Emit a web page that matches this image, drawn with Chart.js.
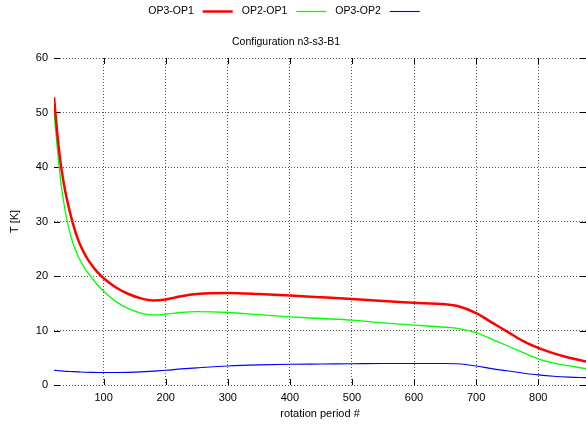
<!DOCTYPE html>
<html>
<head>
<meta charset="utf-8">
<script src="https://cdn.jsdelivr.net/npm/chart.js@4.4.0/dist/chart.umd.min.js"></script>
<style>
  html, body { margin: 0; padding: 0; background: #fff; }
  #wrap { width: 586px; height: 425px; }
</style>
</head>
<body>
<div id="wrap"><canvas id="chart"></canvas></div>
<script>
// rotation period (x) and the three temperature differences (T [K])
const periods = [20, 25, 30, 35, 40, 50, 60, 70, 80, 90, 100, 120, 140, 160, 180, 200, 225, 250, 300, 350,
                 400, 450, 500, 550, 600, 650, 670, 700, 725, 750, 775, 800, 825, 850, 877];
const op3op1 = [52.8, 46.5, 41.3, 37.5, 34.5, 29.8, 26.3, 23.9, 22.1, 20.7, 19.6, 17.9, 16.7, 15.9, 15.5, 15.7, 16.3, 16.7, 16.9, 16.7,
                16.4, 16.1, 15.8, 15.4, 15.1, 14.8, 14.5, 13.2, 11.5, 9.8, 8.1, 6.8, 5.8, 5.0, 4.3];
const op2op1 = [50.1, 43.8, 38.2, 34.0, 30.8, 26.2, 23.4, 21.3, 19.8, 18.4, 17.2, 15.3, 14.0, 13.2, 12.85, 13.0, 13.3, 13.45, 13.3, 12.9,
                12.5, 12.2, 11.9, 11.4, 11.0, 10.6, 10.4, 9.6, 8.4, 7.2, 6.0, 4.8, 4.0, 3.5, 3.0];
const op3op2 = [2.7, 2.65, 2.6, 2.55, 2.5, 2.45, 2.4, 2.35, 2.32, 2.3, 2.3, 2.3, 2.32, 2.4, 2.55, 2.7, 2.95, 3.15, 3.5, 3.7,
                3.8, 3.85, 3.9, 3.95, 3.95, 3.95, 3.9, 3.5, 3.0, 2.6, 2.2, 1.85, 1.6, 1.45, 1.35];

const seriesLabels = ['OP3-OP1', 'OP2-OP1', 'OP3-OP2'];
const xTicks = [100, 200, 300, 400, 500, 600, 700, 800];
const yTicks = [0, 10, 20, 30, 40, 50, 60];
const chartTitle = 'Configuration n3-s3-B1';

const FONT = '"Liberation Sans", Arial, sans-serif';

function toPoints(values) {
    return periods.map((p, i) => ({ x: p, y: values[i] }));
}

// gnuplot style: short solid ticks pointing into the plot, mirrored on all sides
const innerTicks = {
    id: 'innerTicks',
    beforeDatasetsDraw(chart) {
        const { ctx, chartArea: a, scales } = chart;
        ctx.save();
        ctx.strokeStyle = '#000';
        ctx.lineWidth = 1;
        ctx.beginPath();
        xTicks.forEach(v => {
            const px = Math.round(scales.x.getPixelForValue(v)) + 0.5;
            ctx.moveTo(px, a.bottom); ctx.lineTo(px, a.bottom - 6);
            ctx.moveTo(px, a.top); ctx.lineTo(px, a.top + 6);
        });
        yTicks.forEach(v => {
            const py = Math.round(scales.y.getPixelForValue(v)) + 0.5;
            ctx.moveTo(a.left, py); ctx.lineTo(a.left + 6, py);
            ctx.moveTo(a.right, py); ctx.lineTo(a.right - 6, py);
        });
        ctx.stroke();
        ctx.restore();
    }
};

// legend ("label  ——") and title, placed like the gnuplot original
const header = {
    id: 'header',
    afterDraw(chart) {
        const ctx = chart.ctx;
        ctx.save();
        ctx.font = '10.5px ' + FONT;
        ctx.fillStyle = '#000';
        ctx.textBaseline = 'middle';

        const sets = chart.data.datasets;
        const gap = 9, lineLen = 30;
        let total = 0;
        sets.forEach((ds, i) => {
            total += ctx.measureText(ds.label).width + gap + lineLen;
            if (i < sets.length - 1) total += gap;
        });
        let x = 284 - total / 2;
        const y = 11;
        sets.forEach(ds => {
            ctx.textAlign = 'left';
            ctx.fillText(ds.label, x, y);
            x += ctx.measureText(ds.label).width + gap;
            ctx.strokeStyle = ds.borderColor;
            ctx.lineWidth = ds.borderWidth;
            ctx.beginPath();
            ctx.moveTo(x, y + 0.5);
            ctx.lineTo(x + lineLen, y + 0.5);
            ctx.stroke();
            x += lineLen + gap;
        });

        ctx.textAlign = 'center';
        ctx.fillText(chartTitle, 286, 42);
        ctx.restore();
    }
};

const ctx = document.getElementById('chart');
new Chart(ctx, {
    type: 'line',
    data: {
        datasets: [
            { label: seriesLabels[0], data: toPoints(op3op1), borderColor: '#ff0000', borderWidth: 2.5 },
            { label: seriesLabels[1], data: toPoints(op2op1), borderColor: '#00ff00', borderWidth: 1.3 },
            { label: seriesLabels[2], data: toPoints(op3op2), borderColor: '#0000ff', borderWidth: 1.1 }
        ]
    },
    options: {
        responsive: true,
        maintainAspectRatio: false,
        animation: false,
        layout: { padding: { top: 58, right: 0, left: 0, bottom: 0 } },
        elements: {
            point: { radius: 0 },
            line: { cubicInterpolationMode: 'monotone', fill: false }
        },
        plugins: {
            legend: { display: false },
            title: { display: false },
            tooltip: { enabled: false }
        },
        scales: {
            x: {
                type: 'linear',
                min: 20,
                max: 877,
                afterBuildTicks: scale => { scale.ticks = xTicks.map(v => ({ value: v })); },
                afterFit: scale => { scale.height = 40; },
                border: { display: false, dash: [1, 2] },
                grid: { color: '#555', drawTicks: false, lineWidth: 1 },
                ticks: { color: '#000', padding: 6, font: { family: FONT, size: 11 } },
                title: { display: true, text: 'rotation period #', color: '#000', font: { family: FONT, size: 11 }, padding: { top: 4, bottom: 4 } }
            },
            y: {
                min: 0,
                max: 60,
                afterBuildTicks: scale => { scale.ticks = yTicks.map(v => ({ value: v })); },
                afterFit: scale => { scale.width = 54; },
                border: { display: false, dash: [1, 2] },
                grid: { color: '#555', drawTicks: false, lineWidth: 1 },
                ticks: { color: '#000', padding: 6, font: { family: FONT, size: 11 } },
                title: { display: true, text: 'T [K]', color: '#000', font: { family: FONT, size: 11 }, padding: { top: 8, bottom: 4 } }
            }
        }
    },
    plugins: [innerTicks, header]
});
</script>
</body>
</html>
